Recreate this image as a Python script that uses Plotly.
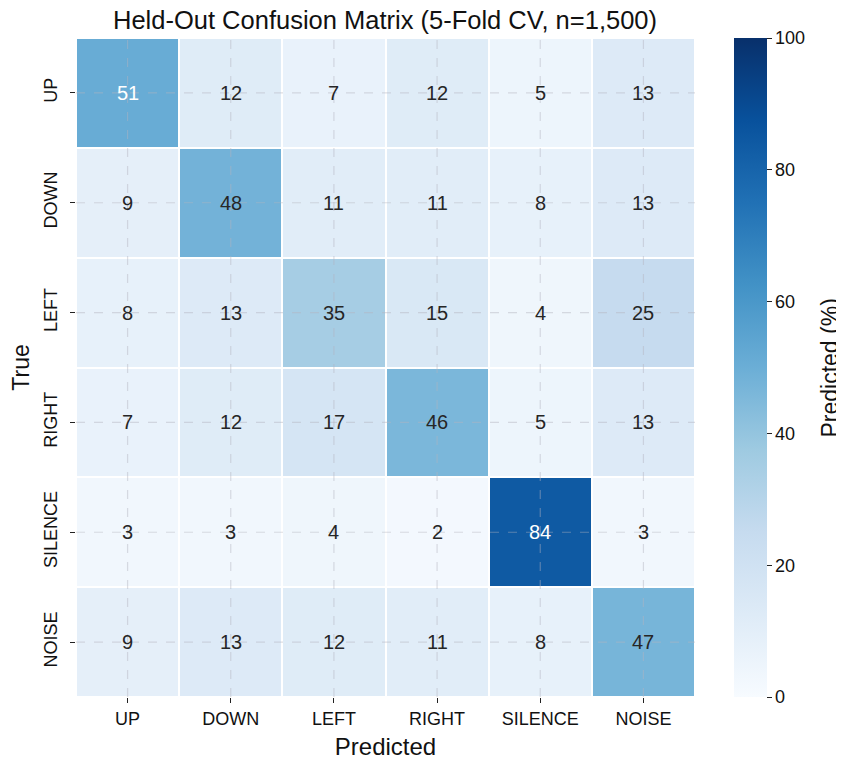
import plotly.graph_objects as go

labels = ["UP", "DOWN", "LEFT", "RIGHT", "SILENCE", "NOISE"]
values = [
    [51, 12, 7, 12, 5, 13],
    [9, 48, 11, 11, 8, 13],
    [8, 13, 35, 15, 4, 25],
    [7, 12, 17, 46, 5, 13],
    [3, 3, 4, 2, 84, 3],
    [9, 13, 12, 11, 8, 47],
]
cbar_ticks = [0, 20, 40, 60, 80, 100]

blues = [
    "rgb(247,251,255)", "rgb(222,235,247)", "rgb(198,219,239)",
    "rgb(158,202,225)", "rgb(107,174,214)", "rgb(66,146,198)",
    "rgb(33,113,181)", "rgb(8,81,156)", "rgb(8,48,107)",
]
colorscale = [[i / (len(blues) - 1), c] for i, c in enumerate(blues)]

FONT = "Liberation Sans, Arial, Helvetica, sans-serif"

# page has an 8px body margin; figure is sized to fill the remaining window
W, H = 836, 753
ML, MR, MT, MB = 68, 149, 30, 64
PW = W - ML - MR

fig = go.Figure(go.Heatmap(
    z=values, x=labels, y=labels,
    colorscale=colorscale, zmin=0, zmax=100,
    xgap=2, ygap=2,
    colorbar=dict(
        tickvals=cbar_ticks, ticks="outside", ticklen=5, tickcolor="#222",
        tickfont=dict(size=18, color="#111"),
        thickness=33, len=1, lenmode="fraction", y=0.5, yanchor="middle",
        x=(734 - 76) / PW, xanchor="left", xpad=0, ypad=0, outlinewidth=0,
    ),
    hoverinfo="skip",
))

annotations = []
for i, row_lab in enumerate(labels):
    for j, col_lab in enumerate(labels):
        v = values[i][j]
        annotations.append(dict(
            x=col_lab, y=row_lab, text=str(v), showarrow=False,
            font=dict(size=20, color="white" if v > 50 else "#262626", family=FONT),
        ))
annotations.append(dict(
    text="Predicted (%)", textangle=-90, showarrow=False,
    xref="paper", yref="paper", x=(829 - 76) / PW, y=0.5,
    xanchor="center", yanchor="middle", font=dict(size=23, color="#111", family=FONT),
))

shapes = []
for lab in labels:
    shapes.append(dict(type="line", xref="x", yref="paper", x0=lab, x1=lab, y0=0, y1=1,
                       line=dict(color="rgba(180,180,190,0.45)", width=1.2, dash="dash"), layer="above"))
    shapes.append(dict(type="line", xref="paper", yref="y", x0=0, x1=1, y0=lab, y1=lab,
                       line=dict(color="rgba(180,180,190,0.45)", width=1.2, dash="dash"), layer="above"))

fig.update_layout(
    width=W, height=H,
    margin=dict(l=ML, r=MR, t=MT, b=MB, autoexpand=False),
    plot_bgcolor="white", paper_bgcolor="white",
    font=dict(family=FONT, color="#111"),
    title=dict(text="Held-Out Confusion Matrix (5-Fold CV, n=1,500)", x=(385 - 8) / W,
               xanchor="center", y=1 - 12 / H, yanchor="middle", font=dict(size=25.5, color="#111")),
    annotations=annotations,
    shapes=shapes,
)
fig.update_xaxes(title=dict(text="Predicted", font=dict(size=24), standoff=10),
                 ticks="outside", ticklen=5, tickcolor="#222", tickfont=dict(size=18),
                 showgrid=False, zeroline=False, showline=False, automargin=False)
fig.update_yaxes(title=dict(text="True", font=dict(size=23), standoff=6),
                 autorange="reversed", tickangle=-90, ticklabelstandoff=6,
                 ticks="outside", ticklen=5, tickcolor="#222", tickfont=dict(size=18),
                 showgrid=False, zeroline=False, showline=False, automargin=False)

fig.write_html("out.html")
